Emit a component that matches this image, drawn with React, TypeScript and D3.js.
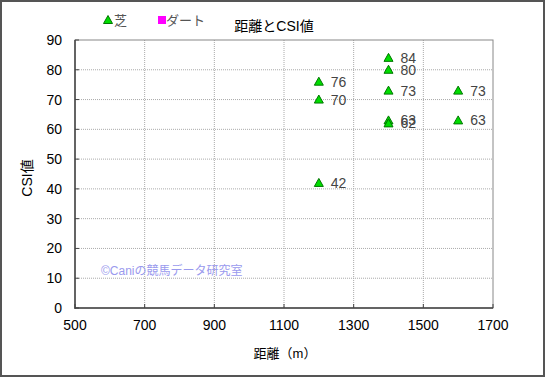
import React from "react";
import * as d3 from "d3";

const distances = [1200, 1200, 1200, 1400, 1400, 1400, 1400, 1400, 1600, 1600];
const csiValues = [76, 70, 42, 84, 80, 73, 63, 62, 73, 63];
const xTicks = [500, 700, 900, 1100, 1300, 1500, 1700];
const yTicks = [0, 10, 20, 30, 40, 50, 60, 70, 80, 90];
const legendLabels = ["芝", "ダート"];
const title = "距離とCSI値";
const xTitle = "距離（m）";
const yTitle = "CSI値";
const watermark = "©Caniの競馬データ研究室";

export default function App() {
  const W = 545, H = 377;
  const L = 75, R = 493, T = 40, B = 308;
  const x = d3.scaleLinear().domain([500, 1700]).range([L, R]);
  const y = d3.scaleLinear().domain([0, 90]).range([B, T]);
  const font = "Arial, 'Liberation Sans', 'Noto Sans CJK JP', sans-serif";
  const tri = (cx: number, cy: number) =>
    `M${cx},${cy - 4.5}L${cx + 4.5},${cy + 3.5}L${cx - 4.5},${cy + 3.5}Z`;
  return (
    <svg width={W} height={H} style={{ position: "absolute", left: 0, top: 0, fontFamily: font }}>
      <rect x={0} y={0} width={W} height={H} fill="#fff" />
      <rect x={1} y={1} width={W - 2} height={H - 2} fill="none" stroke="#555" strokeWidth={2} />
      {xTicks.slice(1, -1).map((t) => (
        <line key={"gx" + t} x1={x(t)} x2={x(t)} y1={T} y2={B} stroke="#aaa" strokeDasharray="1,1" />
      ))}
      {yTicks.slice(1, -1).map((t) => (
        <line key={"gy" + t} x1={L} x2={R} y1={y(t)} y2={y(t)} stroke="#aaa" strokeDasharray="1,1" />
      ))}
      <rect x={L} y={T} width={R - L} height={B - T} fill="none" stroke="#888" strokeWidth={1} />
      <line x1={L} x2={L} y1={T} y2={B + 1} stroke="#444" strokeWidth={1.5} />
      <line x1={L} x2={R} y1={B} y2={B} stroke="#444" strokeWidth={1.5} />
      {xTicks.map((t) => (
        <g key={"tx" + t}>
          <line x1={x(t)} x2={x(t)} y1={B - 4} y2={B} stroke="#444" />
          <text x={x(t)} y={B + 22} textAnchor="middle" fontSize={14} fill="#000">{t}</text>
        </g>
      ))}
      {yTicks.map((t) => (
        <g key={"ty" + t}>
          <line x1={L} x2={L + 4} y1={y(t)} y2={y(t)} stroke="#444" />
          <text x={L - 13} y={y(t) + 5} textAnchor="end" fontSize={14} fill="#000">{t}</text>
        </g>
      ))}
      <text x={101} y={275} fontSize={12} fill="#9a9aee">{watermark}</text>
      {distances.map((d, i) => (
        <g key={"p" + i}>
          <path d={tri(x(d), y(csiValues[i]))} fill="#00dd00" stroke="#007700" strokeWidth={1} />
          <text x={x(d) + 12} y={y(csiValues[i]) + 5} fontSize={14} fill="#444">{csiValues[i]}</text>
        </g>
      ))}
      <text x={274} y={31} textAnchor="middle" fontSize={14} fill="#000">{title}</text>
      <text x={285} y={358} textAnchor="middle" fontSize={13} fill="#000">{xTitle}</text>
      <text transform={`translate(32,178) rotate(-90)`} textAnchor="middle" fontSize={14} fill="#000">{yTitle}</text>
      <path d={tri(108, 20)} fill="#00dd00" stroke="#007700" />
      <text x={114} y={25} fontSize={13} fill="#555">{legendLabels[0]}</text>
      <rect x={158} y={16} width={8} height={8} fill="#ff00ff" />
      <text x={166} y={25} fontSize={13} fill="#555">{legendLabels[1]}</text>
    </svg>
  );
}
